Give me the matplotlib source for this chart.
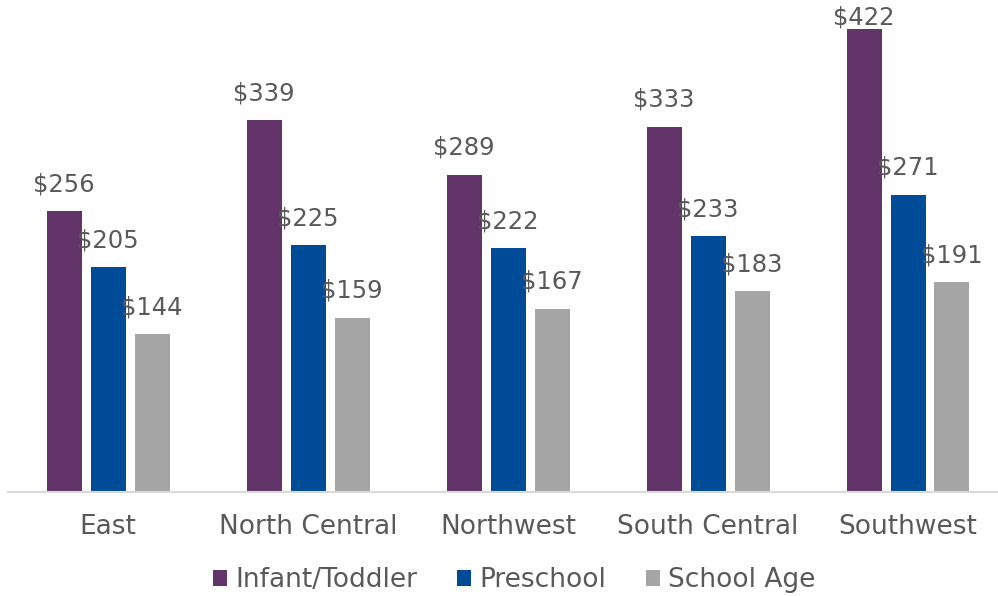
import matplotlib.pyplot as plt
import numpy as np

regions = ["East", "North Central", "Northwest", "South Central", "Southwest"]
infant = [256, 339, 289, 333, 422]
preschool = [205, 225, 222, 233, 271]
school_age = [144, 159, 167, 183, 191]

series = [
    ("Infant/Toddler", infant, "#633469"),
    ("Preschool", preschool, "#004B97"),
    ("School Age", school_age, "#A5A5A5"),
]

plt.rcParams['font.family'] = ['DejaVu Sans']
text_color = "#595959"

fig = plt.figure(figsize=(9.98, 5.96), dpi=100)
ax = fig.add_axes([8 / 998, 104 / 596, 1000 / 998, 492 / 596])

x = np.arange(len(regions))
width = 0.175
step = 0.22
ymax = 448.5
px = ymax / 492  # data units per pixel

for i, (name, vals, color) in enumerate(series):
    pos = x + (i - 1) * step
    bars = ax.bar(pos, vals, width, color=color, label=name)
    for b, v in zip(bars, vals):
        # label above the bar, kept inside the plot area
        ly = min(v + 27 * px, ymax - 18 * px)
        ax.text(
            b.get_x() + b.get_width() / 2, ly, f"${v}",
            ha="center", va="center", fontsize=17.5, color=text_color,
        )

ax.set_xlim(-0.5, 4.5)
ax.set_ylim(0, ymax)
ax.set_xticks(x)
ax.set_xticklabels(regions, fontsize=19, color=text_color)
ax.tick_params(axis="x", length=0, pad=16)
ax.set_yticks([])

for s in ["top", "right", "left"]:
    ax.spines[s].set_visible(False)
ax.spines["bottom"].set_color("#D9D9D9")
ax.spines["bottom"].set_linewidth(1.5)

leg = fig.legend(
    loc="center",
    bbox_to_anchor=(514 / 998, 1 - 580 / 596),
    ncol=3,
    frameon=False,
    fontsize=19,
    handlelength=0.55,
    handleheight=0.55,
    handletextpad=0.3,
    columnspacing=1.5,
)
for t in leg.get_texts():
    t.set_color(text_color)

fig.savefig("out.png", dpi=100)
